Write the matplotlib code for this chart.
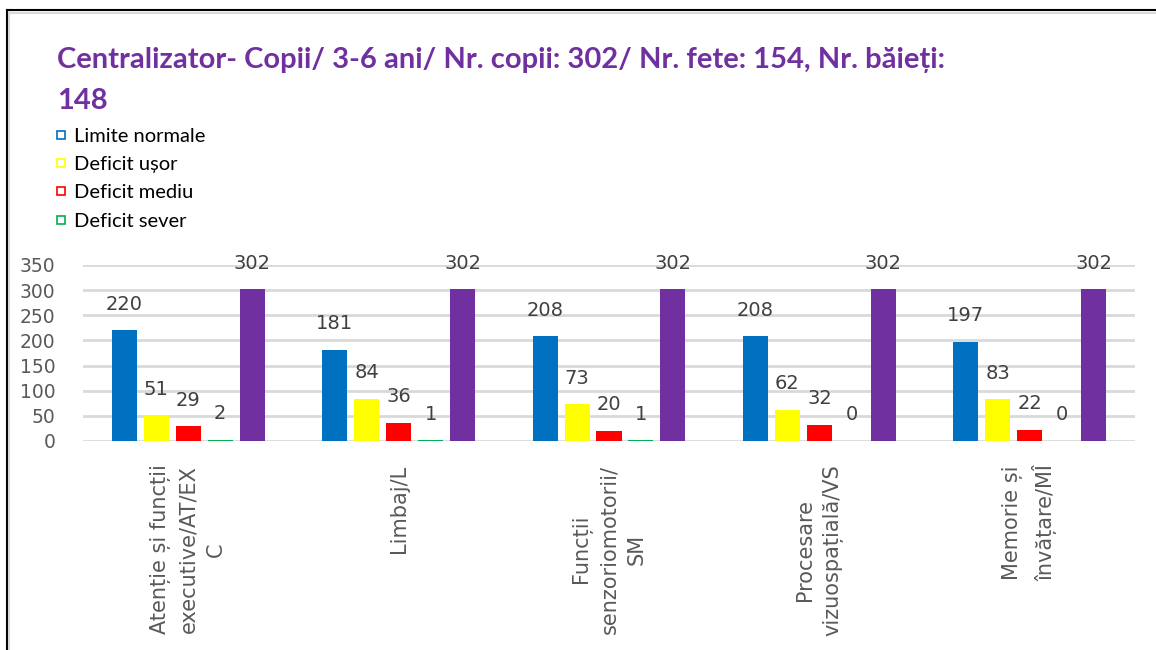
import numpy as np
import matplotlib.pyplot as plt
from matplotlib.lines import Line2D

categories = ["Atenție și funcții\nexecutive/AT/EX\nC",
              "Limbaj/L",
              "Funcții\nsenzoriomotorii/\nSM",
              "Procesare\nvizuospațială/VS",
              "Memorie și\nînvățare/MÎ"]
normale = [220, 181, 208, 208, 197]
usor = [51, 84, 73, 62, 83]
mediu = [29, 36, 20, 32, 22]
sever = [2, 1, 1, 0, 0]
total = [302, 302, 302, 302, 302]

series = [("Limite normale", normale, "#0070C0"),
          ("Deficit ușor", usor, "#FFFF00"),
          ("Deficit mediu", mediu, "#FF0000"),
          ("Deficit sever", sever, "#00B050"),
          (None, total, "#7030A0")]

fig = plt.figure(figsize=(11.56, 6.5), dpi=100)
ax = fig.add_axes([83/1156, 1-441/650, (1135-83)/1156, 176/650])

x = np.arange(len(categories))
w = 0.119
step = 0.152
for i, (name, vals, col) in enumerate(series):
    pos = x + (i - 2) * step
    ax.bar(pos, vals, width=w, color=col, zorder=3)
    for p, v in zip(pos, vals):
        ax.annotate(str(v), (p, v), xytext=(0, 26), textcoords="offset pixels",
                    ha="center", va="center", fontsize=14, color="#404040")

ax.set_xlim(-0.5, 4.5)
ax.set_ylim(0, 350)
ax.set_yticks(range(0, 351, 50))
ax.grid(axis="y", color="#d9d9d9", linewidth=2, zorder=0)
for s in ax.spines.values():
    s.set_visible(False)
ax.tick_params(axis="both", length=0, labelsize=13.5, labelcolor="#595959")
ax.tick_params(axis="y", pad=20)
ax.set_xticks(x)
ax.set_xticklabels(categories, rotation=90, va="top", ha="center",
                   multialignment="center", linespacing=1.45, fontsize=15)
ax.tick_params(axis="x", pad=17)

# legend (hollow squares)
handles = [Line2D([], [], marker="s", linestyle="none", markersize=6,
                  markerfacecolor="white", markeredgecolor=c, markeredgewidth=1.2)
           for n, v, c in series[:4]]
labels = [n for n, v, c in series[:4]]
fig.legend(handles, labels, loc="upper left", bbox_to_anchor=(55/1156, 1-128/650),
           frameon=False, handletextpad=0.35, labelspacing=0.55,
           handlelength=0.6, borderaxespad=0, borderpad=0,
           prop={"family": "Lato", "size": 14.5})

fig.text(57/1156, 1-60/650, "Centralizator- Copii/ 3-6 ani/ Nr. copii: 302/ Nr. fete: 154, Nr. băieți:",
         color="#7030A0", fontsize=21, fontweight="bold", family="Lato", va="center")
fig.text(57/1156, 1-101/650, "148",
         color="#7030A0", fontsize=21, fontweight="bold", family="Lato", va="center")

# frame of the screenshot
fig.add_artist(Line2D([6.5/1156, 6.5/1156], [0, 1-10/650], color="black", lw=1.5))
fig.add_artist(Line2D([6.5/1156, 1], [1-10/650, 1-10/650], color="black", lw=1.5))
fig.add_artist(Line2D([9/1156, 9/1156], [0, 1-12/650], color="#d9d9d9", lw=1.5))
fig.add_artist(Line2D([9/1156, 1], [1-12.5/650, 1-12.5/650], color="#d9d9d9", lw=1.5))

fig.savefig("out.png", dpi=100)
